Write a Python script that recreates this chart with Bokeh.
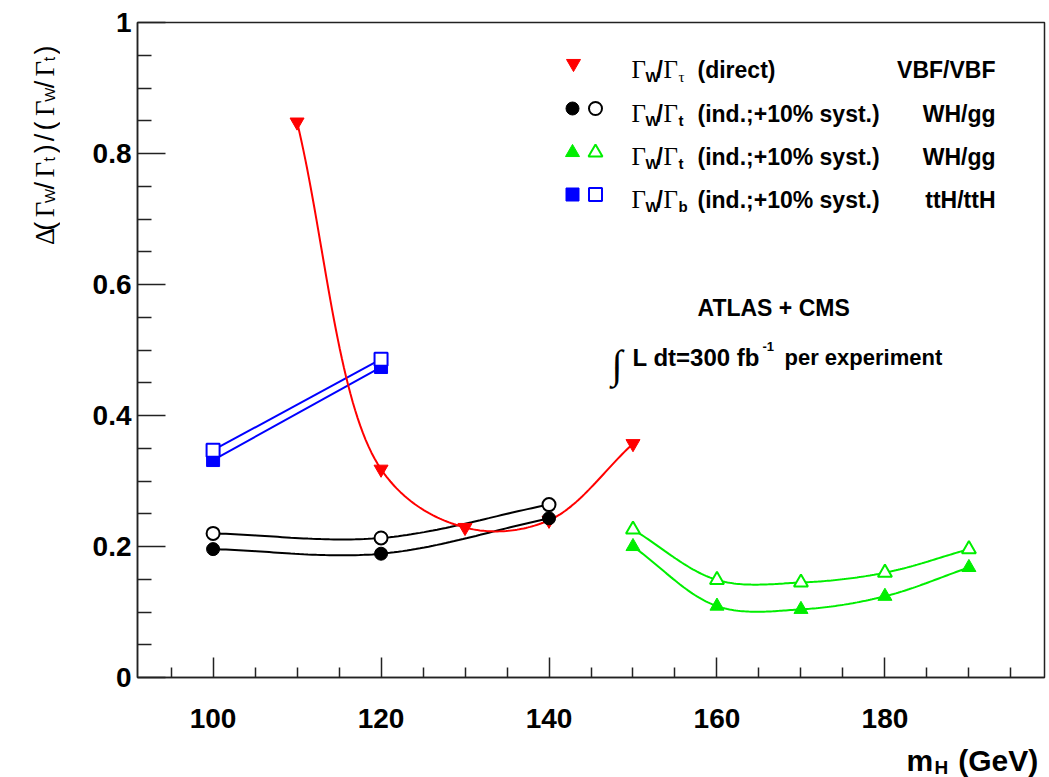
import numpy as np
from bokeh.plotting import figure
from bokeh.layouts import row
from bokeh.models import Range1d, FixedTicker, Label
from bokeh.embed import file_html
from bokeh.resources import INLINE

# ---------------- data ----------------
mh_direct = [110, 120, 130, 140, 150]
r_direct = [0.848, 0.318, 0.229, 0.240, 0.357]

mh_wt = [100, 120, 140]
r_wt_stat = [0.196, 0.189, 0.243]
r_wt_syst = [0.220, 0.213, 0.264]

mh_wt_high = [150, 160, 170, 180, 190]
r_wt_high_stat = [0.200, 0.109, 0.104, 0.124, 0.168]
r_wt_high_syst = [0.226, 0.149, 0.145, 0.160, 0.196]

mh_wb = [100, 120]
r_wb_stat = [0.332, 0.474]
r_wb_syst = [0.347, 0.486]

x_major = [100, 120, 140, 160, 180]
x_minor = [95, 105, 110, 115, 125, 130, 135, 145, 150, 155, 165, 170, 175, 185, 190, 195]
y_major = [0, 0.2, 0.4, 0.6, 0.8, 1]
y_major_labels = ["0", "0.2", "0.4", "0.6", "0.8", "1"]
y_minor = [0.05, 0.1, 0.15, 0.25, 0.3, 0.35, 0.45, 0.5, 0.55, 0.65, 0.7, 0.75, 0.85, 0.9, 0.95]

legend_desc = ["(direct)", "(ind.;+10% syst.)", "(ind.;+10% syst.)", "(ind.;+10% syst.)"]
legend_prod = ["VBF/VBF", "WH/gg", "WH/gg", "ttH/ttH"]

XMIN, XMAX = 91, 199
YMIN, YMAX = 0, 1

# ---------------- layout (page pixels; Bokeh page has no margin) ----------------
PAGE_W, PAGE_H = 1049, 777
TITLE_W = 60                      # narrow strip holding the y-axis title
FR_L, FR_T, FR_W, FR_H = 137, 22, 907, 655   # frame in page pixels
MAIN_W = PAGE_W - TITLE_W

p = figure(width=MAIN_W, height=PAGE_H, output_backend="svg", toolbar_location=None,
           x_range=Range1d(XMIN, XMAX), y_range=Range1d(YMIN, YMAX),
           min_border_left=FR_L - TITLE_W, min_border_top=FR_T,
           min_border_right=PAGE_W - FR_L - FR_W, min_border_bottom=PAGE_H - FR_T - FR_H)
p.xgrid.visible = False
p.ygrid.visible = False
p.outline_line_color = "#222222"
p.outline_line_width = 1.5
p.background_fill_color = "white"
p.border_fill_color = "white"

for ax in (p.xaxis[0], p.yaxis[0]):
    ax.axis_line_color = "#222222"
    ax.axis_line_width = 1.5
    ax.major_tick_line_color = "#222222"
    ax.minor_tick_line_color = "#222222"
    ax.major_tick_line_width = 1.5
    ax.minor_tick_line_width = 1.5
    ax.major_tick_out = 0
    ax.minor_tick_out = 0
    ax.major_label_text_font = "Liberation Sans"
    ax.major_label_text_font_style = "bold"
    ax.major_label_text_font_size = "28px"
    ax.major_label_text_color = "black"

p.xaxis.ticker = FixedTicker(ticks=x_major, minor_ticks=x_minor)
p.xaxis.major_tick_in = 20
p.xaxis.minor_tick_in = 10
p.xaxis.major_label_standoff = 31

p.yaxis.ticker = FixedTicker(ticks=y_major, minor_ticks=y_minor)
p.yaxis.major_tick_in = 28
p.yaxis.minor_tick_in = 14
p.yaxis.major_label_standoff = 6
p.yaxis.major_label_overrides = {v: s for v, s in zip(y_major, y_major_labels)}

SX = FR_W / (XMAX - XMIN)
SY = FR_H / (YMAX - YMIN)


def smooth(xs, ys, n=40, alpha=0.5):
    """Centripetal Catmull-Rom curve through the points (drawn like ROOT's 'C' option)."""
    P = np.column_stack([np.asarray(xs, float) * SX, np.asarray(ys, float) * SY])
    P = np.vstack([2 * P[0] - P[1], P, 2 * P[-1] - P[-2]])
    out = []
    for i in range(1, len(P) - 2):
        p0, p1, p2, p3 = P[i - 1], P[i], P[i + 1], P[i + 2]
        t0 = 0.0
        t1 = t0 + np.linalg.norm(p1 - p0) ** alpha
        t2 = t1 + np.linalg.norm(p2 - p1) ** alpha
        t3 = t2 + np.linalg.norm(p3 - p2) ** alpha
        t = np.linspace(t1, t2, n)[:, None]
        A1 = (t1 - t) / (t1 - t0) * p0 + (t - t0) / (t1 - t0) * p1
        A2 = (t2 - t) / (t2 - t1) * p1 + (t - t1) / (t2 - t1) * p2
        A3 = (t3 - t) / (t3 - t2) * p2 + (t - t2) / (t3 - t2) * p3
        B1 = (t2 - t) / (t2 - t0) * A1 + (t - t0) / (t2 - t0) * A2
        B2 = (t3 - t) / (t3 - t1) * A2 + (t - t1) / (t3 - t1) * A3
        C = (t2 - t) / (t2 - t1) * B1 + (t - t1) / (t2 - t1) * B2
        out.append(C if i == 1 else C[1:])
    C = np.vstack(out)
    return list(C[:, 0] / SX), list(C[:, 1] / SY)


RED = "#ff0000"
GREEN = "#00ee00"
BLUE = "#0000ff"
BLACK = "#000000"
LW = 2

for ys in (r_wt_stat, r_wt_syst):
    cx, cy = smooth(mh_wt, ys)
    p.line(cx, cy, line_color=BLACK, line_width=LW)
for ys in (r_wt_high_stat, r_wt_high_syst):
    cx, cy = smooth(mh_wt_high, ys)
    p.line(cx, cy, line_color=GREEN, line_width=LW)
for ys in (r_wb_stat, r_wb_syst):
    p.line(mh_wb, ys, line_color=BLUE, line_width=LW)
cx, cy = smooth(mh_direct, r_direct)
p.line(cx, cy, line_color=RED, line_width=LW)

p.scatter(mh_direct, r_direct, marker="inverted_triangle", size=14, color=RED)
p.scatter(mh_wt, r_wt_stat, marker="circle", size=13, color=BLACK)
p.scatter(mh_wt, r_wt_syst, marker="circle", size=13, fill_color="white", line_color=BLACK, line_width=2)
p.scatter(mh_wt_high, r_wt_high_stat, marker="triangle", size=14, color=GREEN)
p.scatter(mh_wt_high, r_wt_high_syst, marker="triangle", size=14, fill_color="white", line_color=GREEN, line_width=2)
p.scatter(mh_wb, r_wb_stat, marker="square", size=13, color=BLUE)
p.scatter(mh_wb, r_wb_syst, marker="square", size=13, fill_color="white", line_color=BLUE, line_width=2)


# ---------------- text helpers (page pixel coords -> data) ----------------
def dx(px):
    return XMIN + (px - FR_L) / SX


def dy(py):
    return YMIN + (FR_T + FR_H - py) / SY


SANS = "Liberation Sans"
SERIF = "Liberation Serif"


def mk(px, py, s, size, font=SANS, style="bold", color="black", align="left", angle=0.0):
    return Label(x=dx(px), y=dy(py), text=s, text_font=font, text_font_size=f"{size}px",
                 text_font_style=style, text_color=color, text_align=align,
                 text_baseline="alphabetic", angle=angle)


def txt(*a, **k):
    p.add_layout(mk(*a, **k))


# legend markers
leg_rows = [63, 108, 152, 194]
p.scatter([dx(573)], [dy(leg_rows[0])], marker="inverted_triangle", size=14, color=RED)
p.scatter([dx(572)], [dy(leg_rows[1])], marker="circle", size=13, color=BLACK)
p.scatter([dx(595)], [dy(leg_rows[1])], marker="circle", size=13, fill_color="white", line_color=BLACK, line_width=2)
p.scatter([dx(572)], [dy(leg_rows[2])], marker="triangle", size=14, color=GREEN)
p.scatter([dx(595)], [dy(leg_rows[2])], marker="triangle", size=14, fill_color="white", line_color=GREEN, line_width=2)
p.scatter([dx(572)], [dy(leg_rows[3])], marker="square", size=13, color=BLUE)
p.scatter([dx(595)], [dy(leg_rows[3])], marker="square", size=13, fill_color="white", line_color=BLUE, line_width=2)

# legend texts
leg_base = [69, 113, 156, 199]
leg_sub = [("τ", SERIF, "normal"), ("t", SANS, "bold"), ("t", SANS, "bold"), ("b", SANS, "bold")]
for b, (sub, sf, ss), d, pr in zip(leg_base, leg_sub, legend_desc, legend_prod):
    txt(631, b, "Γ", 25, font=SERIF, style="normal")
    txt(645, b + 7, "W", 15)
    txt(656, b, "/", 23)
    txt(663, b, "Γ", 25, font=SERIF, style="normal")
    txt(678, b + 7, sub, 15, font=sf, style=ss)
    txt(697, b, d, 23)
    txt(995, b, pr, 23, align="right")

# ATLAS + CMS block
txt(697, 307, "ATLAS + CMS", 23)
txt(611, 364, "∫", 40, font=SERIF, style="normal")
txt(632, 357, "L dt=300 fb", 24)
txt(762, 346, "-1", 13)
txt(784, 357, "per experiment", 22)

# x-axis title: placed in side panels so it is not clipped by the frame
p.add_layout(mk(906, 760, "m\u00a0\u00a0\u00a0(GeV)", 30), "below")
p.add_layout(mk(934, 767, "H", 19), "left")

# ---------------- y-axis title strip ----------------
t = figure(width=TITLE_W, height=PAGE_H, output_backend="svg", toolbar_location=None,
           x_range=Range1d(0, TITLE_W), y_range=Range1d(0, PAGE_H),
           x_axis_location=None, y_axis_location=None,
           min_border_left=0, min_border_right=0, min_border_top=0, min_border_bottom=0)
t.outline_line_color = None
t.background_fill_color = "white"
t.border_fill_color = "white"
t.xgrid.visible = False
t.ygrid.visible = False

A = np.pi / 2
BX = 44
ylab = [
    (264, "Δ", SERIF, 27, 0), (247, "(", SANS, 27, 0), (231, "Γ", SERIF, 27, 0),
    (214, "W", SANS, 15, 5), (198, "/", SANS, 27, 0), (184, "Γ", SERIF, 27, 0),
    (165, "t", SANS, 16, 5), (155, ")", SANS, 27, 0), (141, "/", SANS, 27, 0),
    (128, "(", SANS, 27, 0), (111, "Γ", SERIF, 27, 0), (94, "W", SANS, 15, 5),
    (78, "/", SANS, 27, 0), (64, "Γ", SERIF, 27, 0), (46, "t", SANS, 16, 5),
    (38, ")", SANS, 27, 0),
]
for py, s, f, sz, off in ylab:
    t.add_layout(Label(x=BX + off, y=PAGE_H - py, text=s, text_font=f, text_font_size=f"{sz}px",
                       text_font_style="normal", text_color="black", text_align="left",
                       text_baseline="alphabetic", angle=A))

layout = row(t, p, spacing=0)
open("out.html", "w").write(file_html(layout, INLINE))
